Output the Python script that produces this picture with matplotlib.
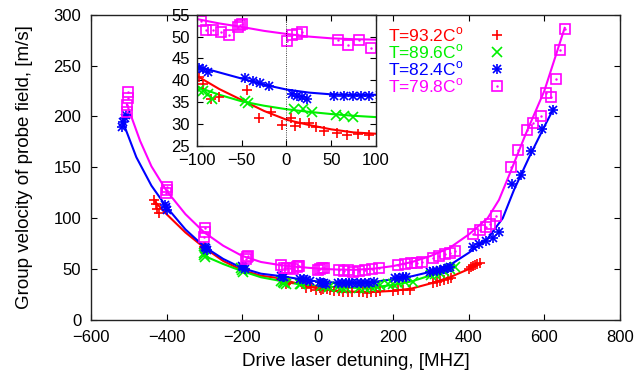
import matplotlib
matplotlib.use("Agg")
import matplotlib.pyplot as plt
from matplotlib.lines import Line2D
from matplotlib.legend_handler import HandlerTuple

plt.rcParams['font.family'] = ['Liberation Sans', 'DejaVu Sans']
plt.rcParams['mathtext.fontset'] = 'custom'
plt.rcParams['mathtext.rm'] = 'Liberation Sans'
plt.rcParams['font.size'] = 12

# measured points  (detuning MHz, velocity m/s)
red_x = [-432, -428, -425, -421, -302, -298, -200, -195,
         -98, -93, -84, -75, -44, -31, -17, -5, 5, 9, 15, 25, 33, 42, 56, 68, 80, 92,
         110, 120, 130, 140, 155, 165, 200, 212, 225, 244,
         306, 315, 323, 335, 345, 354, 400, 405, 410, 416, 422, 429]
red_y = [118, 114, 109, 105, 72, 70, 52, 50,
         40.7, 39.2, 35.8, 36.2, 37.7, 31.5, 32.8, 29.8, 31.5, 29.6, 30.2, 30.2, 29.3, 28.5, 28.0, 27.5, 27.8, 27.5,
         27.2, 27.5, 26.8, 27.2, 27.5, 28.0, 28.5, 29.5, 29.0, 29.5,
         36.7, 37.5, 38.6, 39.5, 40.0, 41.0, 50.5, 51.8, 53.0, 54.0, 55.0, 56.3]

green_x = [-302, -300, -297, -203, -200, -197,
           -98, -93, -88, -83, -46, -43, 8, 19, 29, 55, 64, 74,
           110, 125, 140, 155, 165, 185, 200, 212, 230, 252,
           300, 310, 323, 335, 350, 363]
green_y = [66, 64, 62.2, 51, 49.5, 47.5,
           37.9, 37.5, 36.8, 35.8, 35.3, 34.9, 33.5, 33.4, 32.8, 32.0, 31.9, 31.7,
           31.5, 31.8, 32.0, 33.0, 34.0, 35.0, 35.5, 36.0, 37.0, 37.6,
           44, 45, 46, 48, 50, 51.8]

blue_x = [-519, -515, -511, -507, -405, -402, -399, -298, -295, -292, -200, -197, -193,
          -98, -93, -88, -46, -37, -30, -20, 6, 12, 17, 23, 53, 64, 74, 83, 92,
          105, 115, 125, 135, 150, 204, 215, 225, 235,
          297, 305, 315, 323, 335, 345, 350,
          411, 427, 445, 463, 480, 515, 539, 566, 595, 623]
blue_y = [190, 195, 198, 201, 113, 110.7, 108, 72, 70.4, 69, 53, 51.8, 50.5,
          42.8, 42.5, 42.0, 40.5, 39.8, 39.4, 38.8, 36.9, 36.4, 36.2, 35.8, 36.5, 36.4, 36.5, 36.4, 36.5,
          36.6, 36.7, 36.5, 36.8, 37.0, 41.0, 41.5, 42.0, 42.5,
          47.5, 48.0, 48.5, 49.0, 50.5, 51.5, 52.0,
          71.4, 74.7, 78.0, 80.3, 86.8, 134, 142.5, 166, 188, 206]

mag_x = [-505, -504, -502, -501, -401, -400, -399, -301, -299, -298, -190, -188, -185,
         -96, -90, -82, -73, -64, -54, -52, -50, 1, 6, 12, 17, 57, 69, 81, 94,
         110, 125, 143, 163, 213, 231, 246, 262, 277,
         305, 321, 336, 350, 363, 410, 429, 445, 457, 471,
         511, 531, 553, 569, 592, 605, 617, 630, 641, 654]
mag_y = [204.7, 211, 217.8, 224.4, 124.5, 128, 131, 82, 86, 90, 60, 62.2, 63,
         53.6, 51.4, 51.4, 51.0, 50.3, 52.2, 52.7, 52.9, 49.0, 50.3, 50.6, 51.0, 49.2, 48.0, 49.2, 47.4,
         48.5, 49.0, 49.8, 50.8, 54.0, 55.0, 55.7, 56.3, 57.3,
         61.2, 62.9, 64.9, 66.0, 68.0, 84.5, 88.4, 91.0, 94.3, 102,
         150, 167, 187, 194, 200, 223, 219.5, 236.5, 265, 286]

# fitted curves
red_fx = [-430, -400, -350, -300, -250, -200, -150, -100, -75, -50, -25, 0, 25, 50, 75, 100,
          150, 200, 250, 300, 350, 400, 430]
red_fy = [116, 104, 86, 71, 58, 49, 43.5, 41, 38, 35.5, 33, 31, 29.8, 28.8, 28.1, 27.8,
          27.6, 28.6, 31, 36, 42, 50, 56]
green_fx = [-300, -250, -200, -150, -100, -75, -50, -25, 0, 25, 50, 75, 100,
            150, 200, 250, 300, 365]
green_fy = [63, 55, 48, 42, 38.5, 36.7, 35.2, 34.2, 33.4, 32.8, 32.3, 31.9, 31.6,
            32.2, 34.5, 38, 44, 52.5]
blue_fx = [-517, -480, -440, -400, -350, -300, -250, -200, -150, -100, -75, -50, -25, 0, 25, 50, 75, 100,
           150, 200, 250, 300, 350, 400, 450, 490, 520, 560, 600, 625]
blue_fy = [196, 160, 132, 111, 89, 72, 60, 51, 45.5, 43.2, 41.8, 40.4, 39.0, 37.9, 37.2, 36.8, 36.7, 36.7,
           37.5, 40, 43, 47.5, 54, 66, 80, 100, 128, 160, 190, 208]
mag_fx = [-505, -470, -440, -400, -350, -300, -250, -200, -150, -100, -75, -50, -25, 0, 25, 50, 75, 100,
          150, 200, 250, 300, 350, 400, 450, 480, 510, 550, 600, 654]
mag_fy = [212, 176, 151, 127, 104, 86, 73, 63, 57, 54, 53, 52.2, 51.3, 50.6, 50.0, 49.6, 49.4, 49.3,
          50.5, 53, 57, 63, 71, 84, 100, 118, 145, 182, 225, 287]

labels = ['T=93.2C$^{\\mathrm{o}}$', 'T=89.6C$^{\\mathrm{o}}$',
          'T=82.4C$^{\\mathrm{o}}$', 'T=79.8C$^{\\mathrm{o}}$']
colors = ['#ff0000', '#00f000', '#0000ff', '#ff00ff']

fig = plt.figure(figsize=(6.39, 3.75), dpi=100)
ax = fig.add_axes([0.1424, 0.1467, 0.8276, 0.8141])
ins = fig.add_axes([0.3083, 0.6107, 0.2801, 0.3501])

mk = dict(linestyle='none', markersize=7.5, markeredgewidth=1.2)
mk_x = dict(linestyle='none', markersize=6.5, markeredgewidth=1.2)
mk_bx = dict(linestyle='none', markersize=6, markeredgewidth=1.2)
mk_dot = dict(linestyle='none', markersize=1.5)


def draw(a):
    a.plot(red_fx, red_fy, color=colors[0], lw=1.5)
    a.plot(green_fx, green_fy, color=colors[1], lw=1.5)
    a.plot(blue_fx, blue_fy, color=colors[2], lw=1.5)
    a.plot(mag_fx, mag_fy, color=colors[3], lw=1.5)
    a.plot(red_x, red_y, marker='+', color=colors[0], **mk)
    a.plot(green_x, green_y, marker='x', color=colors[1], **mk_x)
    a.plot(blue_x, blue_y, marker='+', color=colors[2], **mk)
    a.plot(blue_x, blue_y, marker='x', color=colors[2], **mk_bx)
    a.plot(mag_x, mag_y, marker='s', color=colors[3], markerfacecolor='none', **mk)
    a.plot(mag_x, mag_y, marker='.', color=colors[3], **mk_dot)
    a.tick_params(direction='in', top=True, right=True, length=4, width=0.8,
                  colors='black', labelsize=12, pad=7)
    for s in a.spines.values():
        s.set_linewidth(1.0)
        s.set_color('#222222')


draw(ax)
ax.set_xlim(-600, 800)
ax.set_ylim(0, 300)
ax.set_xticks(range(-600, 801, 200))
ax.set_yticks(range(0, 301, 50))
ax.set_xlabel('Drive laser detuning, [MHZ]', fontsize=13.5, labelpad=6)
ax.set_ylabel('Group velocity of probe field, [m/s]', fontsize=13.5, labelpad=15)

draw(ins)
ins.set_xlim(-100, 100)
ins.set_ylim(25, 55)
ins.set_xticks(range(-100, 101, 50))
ins.set_yticks(range(25, 56, 5))
ins.tick_params(pad=5)
ins.axvline(0, color='black', lw=0.6, ls=':')

h_red = Line2D([], [], marker='+', color=colors[0], **mk)
h_green = Line2D([], [], marker='x', color=colors[1], **mk_x)
h_blue = (Line2D([], [], marker='+', color=colors[2], **mk),
          Line2D([], [], marker='x', color=colors[2], **mk_bx))
h_mag = (Line2D([], [], marker='s', color=colors[3], markerfacecolor='none', **mk),
         Line2D([], [], marker='.', color=colors[3], **mk_dot))
fig.legend([h_red, h_green, h_blue, h_mag], labels, loc='upper left',
           bbox_to_anchor=(0.588, 0.965), frameon=False, markerfirst=False,
           handler_map={tuple: HandlerTuple(ndivide=1, pad=0)},
           labelcolor=colors, fontsize=12.5, handlelength=1.5, handletextpad=1.2,
           labelspacing=-0.1, borderpad=0.2)

fig.savefig('out.png', dpi=100)
